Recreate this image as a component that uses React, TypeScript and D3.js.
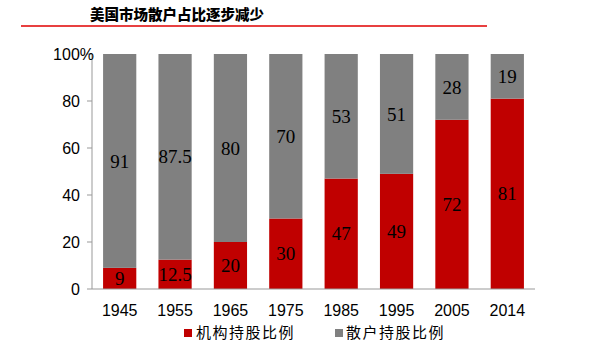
import React from "react";
import * as d3 from "d3";

const categories = ["1945", "1955", "1965", "1975", "1985", "1995", "2005", "2014"];
const institutional = [9, 12.5, 20, 30, 47, 49, 72, 81];
const retail = [91, 87.5, 80, 70, 53, 51, 28, 19];
const yTicks = [0, 20, 40, 60, 80, 100];
const seriesNames = ["机构持股比例", "散户持股比例"];

const W = 603, H = 357;
const left = 92, right = 535, top = 54, bottom = 289;

export default function App() {
  const x = d3.scaleBand().domain(categories).range([left, right]).paddingInner(0.4).paddingOuter(0.2);
  const y = d3.scaleLinear().domain([0, 100]).range([bottom, top]);
  const bw = x.bandwidth();
  const red = "#C00000", grey = "#808080";
  return (
    <svg width={W} height={H} style={{ position: "absolute", left: 0, top: 0 }}>
      <text x={90} y={20} fontFamily="Noto Sans CJK SC" fontWeight="900" fontSize={14.5} fill="#000">美国市场散户占比逐步减少</text>
      <line x1={21} x2={487} y1={26} y2={26} stroke="#E00000" strokeWidth={1.5} />
      {categories.map((c, i) => {
        const x0 = x(c)!;
        return (
          <g key={c}>
            <rect x={x0} y={y(institutional[i])} width={bw} height={bottom - y(institutional[i])} fill={red} />
            <rect x={x0} y={y(100)} width={bw} height={y(institutional[i]) - y(100)} fill={grey} />
            <text x={x0 + bw / 2} y={(y(institutional[i]) + bottom) / 2} dy="0.35em" textAnchor="middle" fontFamily="Liberation Serif" fontSize={19} fill="#000">{institutional[i]}</text>
            <text x={x0 + bw / 2} y={(y(100) + y(institutional[i])) / 2} dy="0.35em" textAnchor="middle" fontFamily="Liberation Serif" fontSize={19} fill="#000">{retail[i]}</text>
            <text x={x0 + bw / 2} y={310} dy="0.35em" textAnchor="middle" fontFamily="Liberation Sans" fontSize={16} fill="#000">{c}</text>
          </g>
        );
      })}
      <line x1={left} x2={left} y1={top} y2={bottom} stroke="#999" strokeWidth={1} />
      <line x1={left} x2={right} y1={bottom} y2={bottom} stroke="#999" strokeWidth={1} />
      {yTicks.map(t => (
        <g key={t}>
          <line x1={left - 5} x2={left} y1={y(t)} y2={y(t)} stroke="#999" />
          <text x={t === 100 ? 94 : 80} y={y(t)} dy="0.35em" textAnchor="end" fontFamily="Liberation Sans" fontSize={16} fill="#000">{t === 100 ? "100%" : t}</text>
        </g>
      ))}
      <rect x={184} y={329} width={8} height={8} fill={red} />
      <text x={196} y={333} dy="0.35em" fontFamily="Noto Sans CJK SC" fontSize={15} letterSpacing={1.5} fill="#000">{seriesNames[0]}</text>
      <rect x={335} y={329} width={8} height={8} fill={grey} />
      <text x={346} y={333} dy="0.35em" fontFamily="Noto Sans CJK SC" fontSize={15} letterSpacing={1.5} fill="#000">{seriesNames[1]}</text>
    </svg>
  );
}
